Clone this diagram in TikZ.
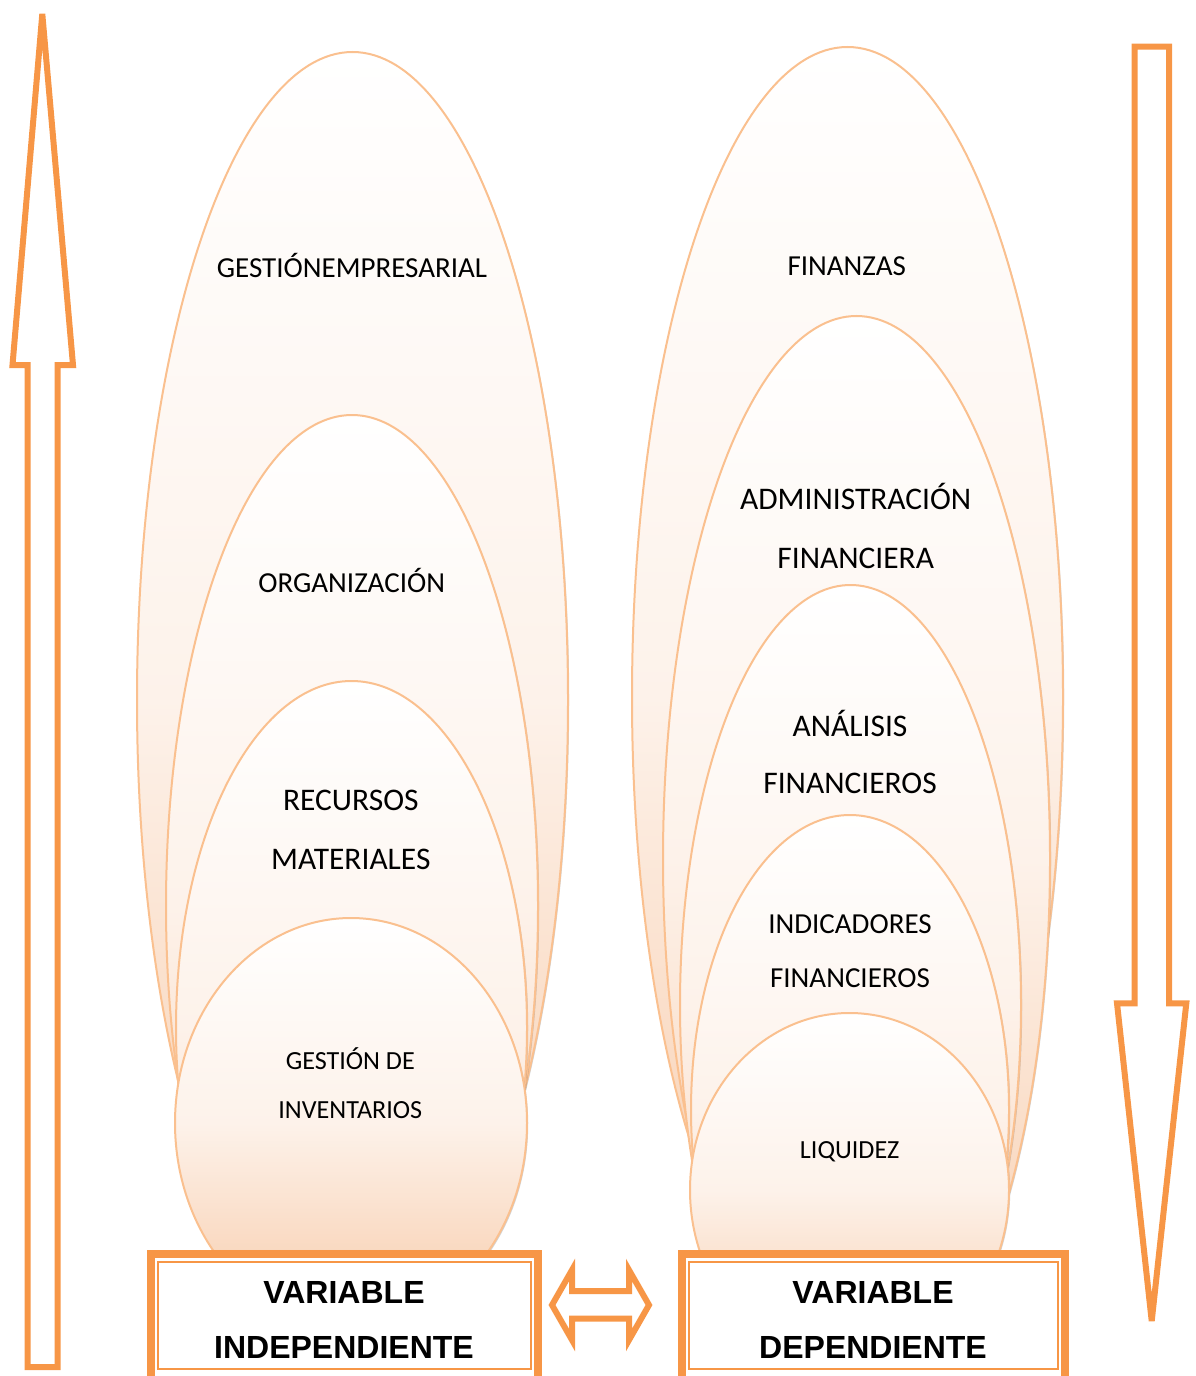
\documentclass[tikz,border=0pt]{standalone}
\usepackage{fontspec}
\setmainfont{Carlito}
\newfontfamily\boxfont{Liberation Sans}
\usetikzlibrary{shadows}
\definecolor{accent}{HTML}{F79646}
\definecolor{ellline}{HTML}{FAC08F}
\definecolor{ellmid}{HTML}{FDF2EA}
\definecolor{ellbot}{HTML}{F7CAA8}
\begin{document}
\begin{tikzpicture}[x=0.75pt,y=-0.75pt,
  ell/.style={draw=ellline, line width=1.5pt,
    top color=white, bottom color=ellbot, middle color=ellmid,
    general shadow={fill=black!70, opacity=0.25, shadow xshift=0.9pt, shadow yshift=-1.1pt}},
  arr/.style={draw=accent, line width=4.5pt, fill=white, miter limit=4},
  boxthick/.style={draw=accent, line width=6pt, fill=white},
  boxthin/.style={draw=accent, line width=1.9pt},
  lab/.style={anchor=base, inner sep=0pt, text=black},
  labS/.style={lab, font=\fontsize{19.6}{24}\selectfont},
  labM/.style={lab, font=\fontsize{21.75}{26}\selectfont},
  labL/.style={lab, font=\fontsize{23.6}{28}\selectfont},
  boxlab/.style={anchor=base, inner sep=0pt, text=black,
    font=\boxfont\bfseries\fontsize{24}{28}\selectfont}]
\useasboundingbox (0,0) rectangle (1195,1376);
\clip (0,0) rectangle (1195,1376);

% left stack of nested ellipses
\path[ell] (352.5,700) ellipse [x radius=215.5, y radius=648];
\path[ell] (352,906) ellipse [x radius=186, y radius=491];
\path[ell] (351.5,1028) ellipse [x radius=175.5, y radius=347];
\path[ell] (351,1123) ellipse [x radius=176, y radius=205];

% right stack of nested ellipses
\path[ell] (847.5,697) ellipse [x radius=215.5, y radius=650];
\path[ell] (856.5,859) ellipse [x radius=193.5, y radius=543];
\path[ell] (850.5,1005) ellipse [x radius=170.5, y radius=420];
\path[ell] (850,1110) ellipse [x radius=159, y radius=295];
\path[ell] (849.5,1190) ellipse [x radius=159.5, y radius=177];

% labels, left
\node[labM] (ge) at (352,278) {GESTIÓNEMPRESARIAL};
\node[labM] (org) at (351.7,592) {ORGANIZACIÓN};
\node[labL] (rec1) at (350.8,810) {RECURSOS};
\node[labL] (rec2) at (350.8,869) {MATERIALES};
\node[labS] (inv1) at (350.3,1069) {GESTIÓN DE};
\node[labS] (inv2) at (350.3,1118) {INVENTARIOS};

% labels, right
\node[labM] (fin) at (846.7,276) {FINANZAS};
\node[labL] (adm1) at (855.7,509) {ADMINISTRACIÓN};
\node[labL] (adm2) at (855.7,568) {FINANCIERA};
\node[labL] (ana1) at (850,736) {ANÁLISIS};
\node[labL] (ana2) at (850,793) {FINANCIEROS};
\node[labM] (ind1) at (850,933) {INDICADORES};
\node[labM] (ind2) at (850,987) {FINANCIEROS};
\node[labS] (liq) at (849.7,1158) {LIQUIDEZ};

% variable boxes
\draw[boxthick] (151,1254) rectangle (538,1395);
\draw[boxthin] (158,1262) rectangle (531,1369);
\draw[boxthick] (682,1254) rectangle (1065,1395);
\draw[boxthin] (689,1262) rectangle (1058,1369);
\node[boxlab] (vi1) at (344,1303) {VARIABLE};
\node[boxlab] (vi2) at (344,1358) {INDEPENDIENTE};
\node[boxlab] (vd1) at (873,1303) {VARIABLE};
\node[boxlab] (vd2) at (873,1358) {DEPENDIENTE};

% two-headed block arrow between the boxes
\draw[arr] (552,1305) -- (572,1270) -- (572,1291) -- (629,1291) -- (629,1270)
  -- (649,1305) -- (629,1340) -- (629,1318.5) -- (572,1318.5) -- (572,1340) -- cycle;

% upward block arrow
\draw[arr] (42.3,14) -- (73,365) -- (57.5,365) -- (57.5,1367) -- (27.5,1367)
  -- (27.5,365) -- (12.5,365) -- cycle;

% downward block arrow
\draw[arr] (1134.7,46.7) -- (1169.2,46.7) -- (1169.2,1003.3) -- (1186.3,1003.3)
  -- (1151.7,1321) -- (1117,1003.3) -- (1134.7,1003.3) -- cycle;
\end{tikzpicture}
\end{document}
